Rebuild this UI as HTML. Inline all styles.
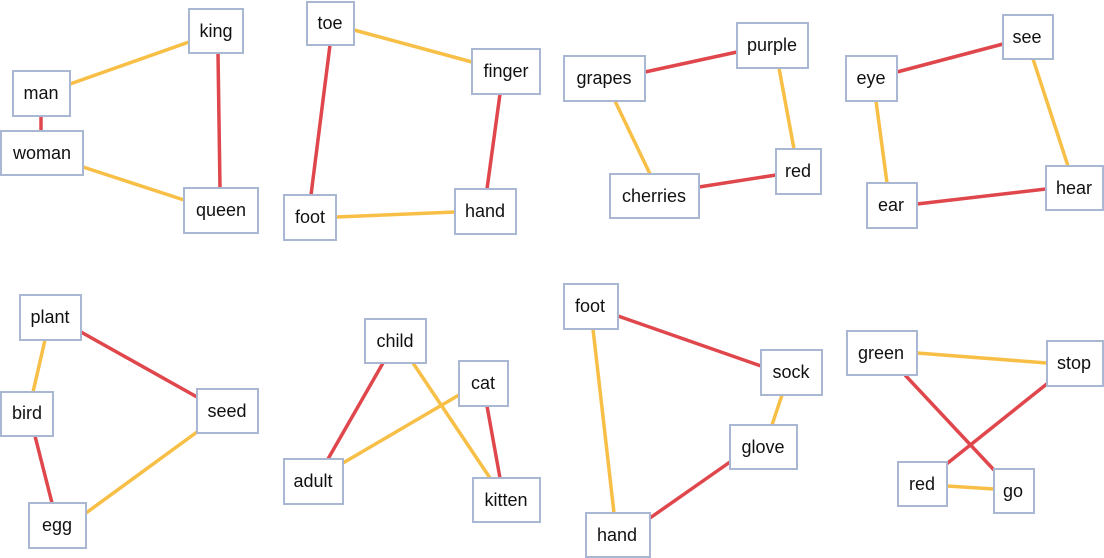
<!DOCTYPE html>
<html><head><meta charset="utf-8"><style>
html,body{margin:0;padding:0;background:#fff;}
svg{display:block;}
text{font-family:"Liberation Sans",sans-serif;font-size:18px;fill:#111;text-anchor:middle;dominant-baseline:central;}
rect{fill:#fff;stroke:#a9b7d3;stroke-width:2;}
.o{stroke:#f8bf47;stroke-width:3.5;}
.r{stroke:#df474c;stroke-width:3.5;}
</style></head><body>
<svg width="1104" height="558" viewBox="0 0 1104 558">
<!-- lines -->
<line class="o" x1="70" y1="84" x2="189" y2="42"/>
<line class="r" x1="41" y1="116" x2="41" y2="131"/>
<line class="o" x1="83" y1="167" x2="184" y2="200"/>
<line class="r" x1="218" y1="53" x2="220" y2="188"/>
<line class="o" x1="354" y1="30" x2="472" y2="62"/>
<line class="r" x1="330" y1="45" x2="311" y2="195"/>
<line class="o" x1="336" y1="217" x2="455" y2="212"/>
<line class="r" x1="500" y1="94" x2="487" y2="189"/>
<line class="r" x1="645" y1="72" x2="737" y2="52"/>
<line class="o" x1="779" y1="68" x2="794" y2="149"/>
<line class="o" x1="615" y1="101" x2="650" y2="174"/>
<line class="r" x1="699" y1="187" x2="776" y2="175"/>
<line class="r" x1="897" y1="72" x2="1003" y2="44"/>
<line class="o" x1="1033" y1="59" x2="1068" y2="166"/>
<line class="o" x1="876" y1="101" x2="887" y2="183"/>
<line class="r" x1="917" y1="204" x2="1046" y2="189"/>
<line class="r" x1="81" y1="332" x2="197" y2="397"/>
<line class="o" x1="45" y1="340" x2="33" y2="392"/>
<line class="r" x1="35" y1="436" x2="52" y2="503"/>
<line class="o" x1="86" y1="513" x2="197" y2="432"/>
<line class="r" x1="383" y1="363" x2="328" y2="459"/>
<line class="o" x1="343" y1="463" x2="459" y2="395"/>
<line class="o" x1="413" y1="363" x2="490" y2="478"/>
<line class="r" x1="487" y1="406" x2="500" y2="478"/>
<line class="r" x1="618" y1="316" x2="761" y2="366"/>
<line class="o" x1="593" y1="329" x2="614" y2="513"/>
<line class="o" x1="782" y1="395" x2="772" y2="425"/>
<line class="r" x1="730" y1="462" x2="650" y2="518"/>
<line class="o" x1="917" y1="353" x2="1047" y2="363"/>
<line class="r" x1="905" y1="375" x2="994" y2="470"/>
<line class="r" x1="1048" y1="383" x2="944" y2="466"/>
<line class="o" x1="947" y1="486" x2="994" y2="489"/>
<!-- nodes -->
<g>
<rect x="189" y="9" width="54" height="44"/><text x="216" y="31">king</text>
<rect x="13" y="71" width="57" height="45"/><text x="41" y="93">man</text>
<rect x="1" y="131" width="82" height="44"/><text x="42" y="153">woman</text>
<rect x="184" y="188" width="74" height="45"/><text x="221" y="210">queen</text>

<rect x="307" y="2" width="47" height="43"/><text x="330" y="23">toe</text>
<rect x="472" y="49" width="68" height="45"/><text x="506" y="71">finger</text>
<rect x="284" y="195" width="52" height="45"/><text x="310" y="217">foot</text>
<rect x="455" y="189" width="61" height="45"/><text x="485" y="211">hand</text>

<rect x="564" y="56" width="81" height="45"/><text x="604" y="78">grapes</text>
<rect x="737" y="23" width="71" height="45"/><text x="772" y="45">purple</text>
<rect x="610" y="174" width="89" height="44"/><text x="654" y="196">cherries</text>
<rect x="776" y="149" width="45" height="45"/><text x="798" y="171">red</text>

<rect x="846" y="56" width="51" height="45"/><text x="871" y="78">eye</text>
<rect x="1003" y="15" width="50" height="44"/><text x="1027" y="37">see</text>
<rect x="867" y="183" width="50" height="45"/><text x="891" y="205">ear</text>
<rect x="1046" y="166" width="57" height="44"/><text x="1074" y="188">hear</text>

<rect x="20" y="295" width="61" height="45"/><text x="50" y="317">plant</text>
<rect x="1" y="392" width="52" height="44"/><text x="27" y="413">bird</text>
<rect x="197" y="389" width="61" height="44"/><text x="227" y="411">seed</text>
<rect x="29" y="503" width="57" height="45"/><text x="57" y="525">egg</text>

<rect x="365" y="319" width="61" height="44"/><text x="395" y="341">child</text>
<rect x="459" y="361" width="49" height="45"/><text x="483" y="383">cat</text>
<rect x="284" y="459" width="59" height="45"/><text x="313" y="481">adult</text>
<rect x="473" y="478" width="67" height="44"/><text x="506" y="500">kitten</text>

<rect x="564" y="284" width="54" height="45"/><text x="590" y="306">foot</text>
<rect x="761" y="350" width="61" height="45"/><text x="791" y="372">sock</text>
<rect x="730" y="425" width="67" height="44"/><text x="763" y="447">glove</text>
<rect x="586" y="513" width="64" height="44"/><text x="617" y="535">hand</text>

<rect x="847" y="331" width="70" height="44"/><text x="881" y="353">green</text>
<rect x="1047" y="341" width="56" height="45"/><text x="1074" y="363">stop</text>
<rect x="898" y="462" width="49" height="44"/><text x="922" y="484">red</text>
<rect x="994" y="469" width="40" height="44"/><text x="1013" y="491">go</text>
</g>
</svg>
</body></html>
